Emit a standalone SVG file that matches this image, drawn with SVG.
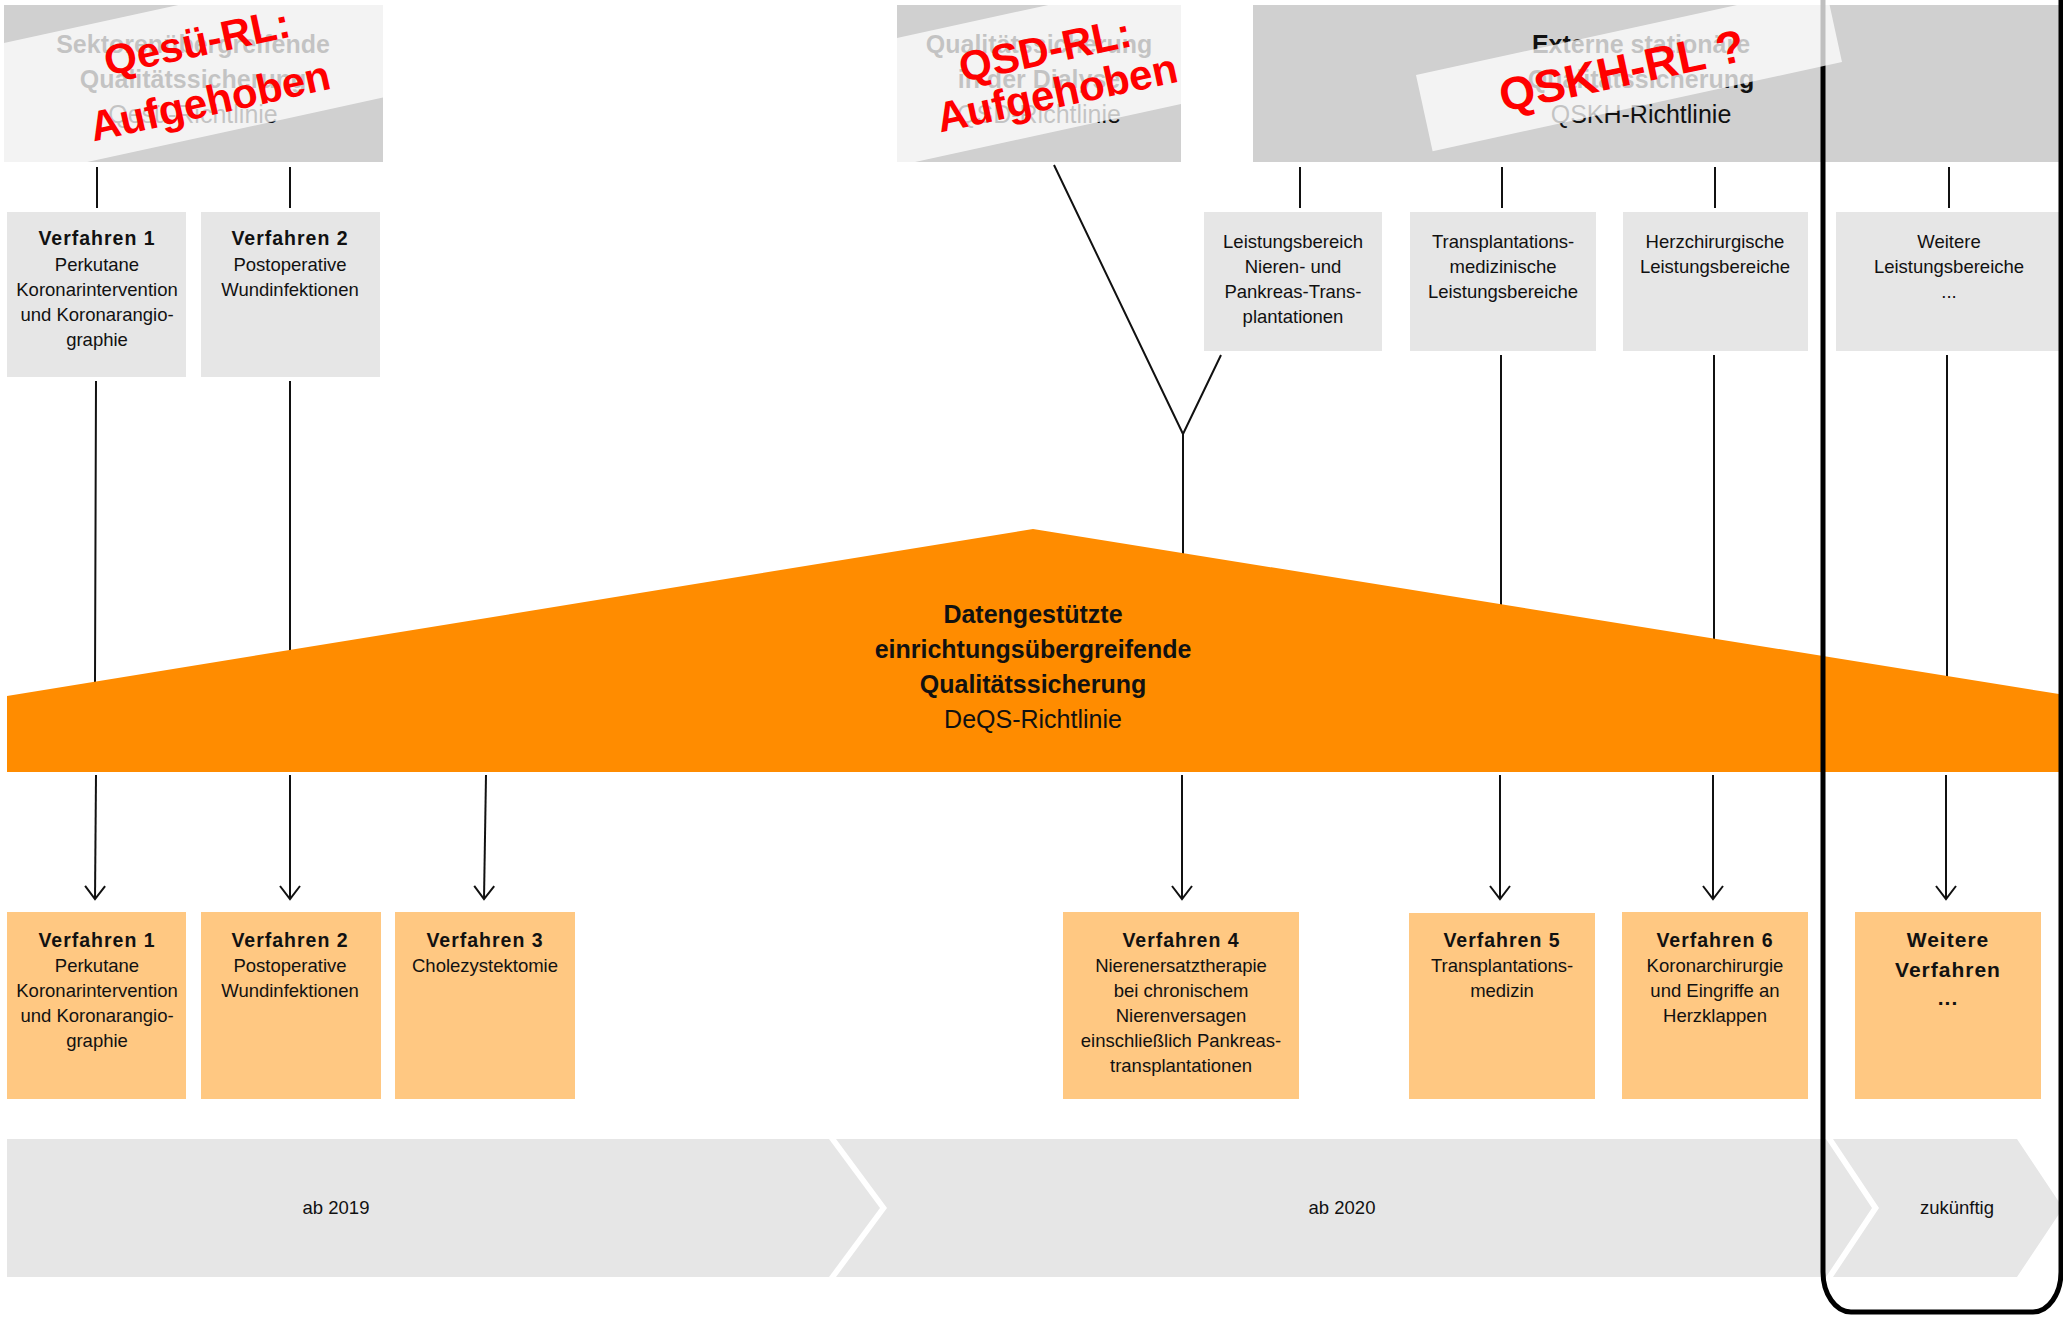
<svg xmlns="http://www.w3.org/2000/svg" width="2063" height="1320" viewBox="0 0 2063 1320">
<style>
text{font-family:"Liberation Sans",Arial,sans-serif;fill:#111;text-anchor:middle}
.h{font-size:25px;font-weight:bold}
.hr{font-size:25px}
.b{font-size:19.5px;font-weight:bold;letter-spacing:1px}
.bw{font-size:21px;font-weight:bold;letter-spacing:1px}
.r{font-size:18.5px}
.red{font-size:42px;font-weight:bold;fill:#ff0000}
.band{fill:#ffffff;fill-opacity:0.75}
.top{fill:#d0d0d0}
.gray{fill:#e6e6e6}
.lo{fill:#ffc882}
.ln{stroke:#111;stroke-width:2;fill:none}
.frame{stroke:#000;stroke-width:5;fill:none}
</style>
<defs>
<marker id="ah" viewBox="-15 -12 17 24" refX="0" refY="0" markerWidth="17" markerHeight="24" orient="auto" markerUnits="userSpaceOnUse">
<path d="M-13,-10 L0,0 L-13,10" fill="none" stroke="#111" stroke-width="2"/>
</marker>
<clipPath id="cq"><rect x="4" y="5" width="379" height="157"/></clipPath>
<clipPath id="cd"><rect x="897" y="5" width="284" height="157"/></clipPath>
</defs>

<g id="timeline">
<polygon class="gray" points="7,1139 829,1139 880,1208 829,1277 7,1277"/>
<polygon class="gray" points="836,1139 1826,1139 1872,1208 1826,1277 836,1277 887,1208"/>
<polygon class="gray" points="1833,1139 2017,1139 2063,1208 2017,1277 1833,1277 1879,1208"/>
<text class="r" x="336" y="1214">ab 2019</text>
<text class="r" x="1342" y="1214">ab 2020</text>
<text class="r" x="1957" y="1214">zukünftig</text>
</g>

<g id="connectors">
<path class="ln" d="M97,167 V208 M290,167 V208 M96,381 L95,683 M290,381 V652 M1054,165 L1183,434 M1221,355 L1183,434 M1183,434 V556 M1300,167 V208 M1502,167 V208 M1715,167 V208 M1949,167 V208 M1501,355 V607 M1714,355 V642 M1947,355 V679"/>
<g marker-end="url(#ah)">
<path class="ln" d="M96,775 L95,899"/>
<path class="ln" d="M290,775 V899"/>
<path class="ln" d="M486,775 L484,899"/>
<path class="ln" d="M1182,775 V899"/>
<path class="ln" d="M1500,775 V899"/>
<path class="ln" d="M1713,775 V899"/>
<path class="ln" d="M1946,775 V899"/>
</g>
</g>

<g id="deqs">
<polygon fill="#ff8c00" points="7,696 1033,529 2059,694 2059,772 7,772"/>
<text class="h" x="1033" y="623">Datengestützte</text>
<text class="h" x="1033" y="658">einrichtungsübergreifende</text>
<text class="h" x="1033" y="693">Qualitätssicherung</text>
<text class="hr" x="1033" y="728">DeQS-Richtlinie</text>
</g>

<g id="top-v1">
<rect class="gray" x="7" y="212" width="179" height="165"/>
<text class="b" x="97" y="245">Verfahren 1</text>
<text class="r" x="97" y="271">Perkutane</text>
<text class="r" x="97" y="296">Koronarintervention</text>
<text class="r" x="97" y="321">und Koronarangio-</text>
<text class="r" x="97" y="346">graphie</text>
</g>
<g id="top-v2">
<rect class="gray" x="201" y="212" width="179" height="165"/>
<text class="b" x="290" y="245">Verfahren 2</text>
<text class="r" x="290" y="271">Postoperative</text>
<text class="r" x="290" y="296">Wundinfektionen</text>
</g>
<g id="lb-niere">
<rect class="gray" x="1204" y="212" width="178" height="139"/>
<text class="r" x="1293" y="248">Leistungsbereich</text>
<text class="r" x="1293" y="273">Nieren- und</text>
<text class="r" x="1293" y="298">Pankreas-Trans-</text>
<text class="r" x="1293" y="323">plantationen</text>
</g>
<g id="lb-tx">
<rect class="gray" x="1410" y="212" width="186" height="139"/>
<text class="r" x="1503" y="248">Transplantations-</text>
<text class="r" x="1503" y="273">medizinische</text>
<text class="r" x="1503" y="298">Leistungsbereiche</text>
</g>
<g id="lb-herz">
<rect class="gray" x="1623" y="212" width="185" height="139"/>
<text class="r" x="1715" y="248">Herzchirurgische</text>
<text class="r" x="1715" y="273">Leistungsbereiche</text>
</g>
<g id="lb-weitere">
<rect class="gray" x="1836" y="212" width="226" height="139"/>
<text class="r" x="1949" y="248">Weitere</text>
<text class="r" x="1949" y="273">Leistungsbereiche</text>
<text class="r" x="1949" y="298">...</text>
</g>

<g id="v1">
<rect class="lo" x="7" y="912" width="179" height="187"/>
<text class="b" x="97" y="947">Verfahren 1</text>
<text class="r" x="97" y="972">Perkutane</text>
<text class="r" x="97" y="997">Koronarintervention</text>
<text class="r" x="97" y="1022">und Koronarangio-</text>
<text class="r" x="97" y="1047">graphie</text>
</g>
<g id="v2">
<rect class="lo" x="201" y="912" width="180" height="187"/>
<text class="b" x="290" y="947">Verfahren 2</text>
<text class="r" x="290" y="972">Postoperative</text>
<text class="r" x="290" y="997">Wundinfektionen</text>
</g>
<g id="v3">
<rect class="lo" x="395" y="912" width="180" height="187"/>
<text class="b" x="485" y="947">Verfahren 3</text>
<text class="r" x="485" y="972">Cholezystektomie</text>
</g>
<g id="v4">
<rect class="lo" x="1063" y="912" width="236" height="187"/>
<text class="b" x="1181" y="947">Verfahren 4</text>
<text class="r" x="1181" y="972">Nierenersatztherapie</text>
<text class="r" x="1181" y="997">bei chronischem</text>
<text class="r" x="1181" y="1022">Nierenversagen</text>
<text class="r" x="1181" y="1047">einschließlich Pankreas-</text>
<text class="r" x="1181" y="1072">transplantationen</text>
</g>
<g id="v5">
<rect class="lo" x="1409" y="913" width="186" height="186"/>
<text class="b" x="1502" y="947">Verfahren 5</text>
<text class="r" x="1502" y="972">Transplantations-</text>
<text class="r" x="1502" y="997">medizin</text>
</g>
<g id="v6">
<rect class="lo" x="1622" y="912" width="186" height="187"/>
<text class="b" x="1715" y="947">Verfahren 6</text>
<text class="r" x="1715" y="972">Koronarchirurgie</text>
<text class="r" x="1715" y="997">und Eingriffe an</text>
<text class="r" x="1715" y="1022">Herzklappen</text>
</g>
<g id="v-weitere">
<rect class="lo" x="1855" y="912" width="186" height="187"/>
<text class="bw" x="1948" y="947">Weitere</text>
<text class="bw" x="1948" y="977">Verfahren</text>
<text class="bw" x="1948" y="1005">...</text>
</g>

<g id="qesu">
<rect class="top" x="4" y="5" width="379" height="157"/>
<text class="h" x="193" y="53">Sektorenübergreifende</text>
<text class="h" x="193" y="88">Qualitätssicherung</text>
<text class="hr" x="193" y="123">Qesü-Richtlinie</text>
<g clip-path="url(#cq)"><rect class="band" transform="translate(4,43) rotate(-12.3)" x="-60" y="0" width="520" height="134"/></g>
<text class="red" transform="translate(200,56) rotate(-12)">Qesü-RL:</text>
<text class="red" transform="translate(213,115) rotate(-12.5)">Aufgehoben</text>
</g>

<g id="qsd">
<rect class="top" x="897" y="5" width="284" height="157"/>
<text class="h" x="1039" y="53">Qualitätssicherung</text>
<text class="h" x="1039" y="88">in der Dialyse</text>
<text class="hr" x="1039" y="123">QSD-Richtlinie</text>
<g clip-path="url(#cd)"><rect class="band" transform="translate(897,38) rotate(-12.3)" x="-60" y="0" width="420" height="125"/></g>
<text class="red" transform="translate(1048,64) rotate(-12)">QSD-RL:</text>
<text class="red" transform="translate(1060,107) rotate(-12)">Aufgehoben</text>
</g>

<g id="qskh">
<rect class="top" x="1253" y="5" width="810" height="157"/>
<text class="h" x="1641" y="53">Externe stationäre</text>
<text class="h" x="1641" y="88">Qualitätssicherung</text>
<text class="hr" x="1641" y="123">QSKH-Richtlinie</text>
</g>

<g id="future-frame">
<path class="frame" d="M1823,-10 V1272 A28,40 0 0 0 1851,1312 H2033 A28,40 0 0 0 2061,1272 V-10"/>
</g>

<g id="qskh-overlay">
<rect class="band" transform="translate(1416,75) rotate(-12.3)" x="0" y="0" width="419" height="78"/>
<text class="red" style="font-size:46px" transform="translate(1625,86) rotate(-12)">QSKH-RL ?</text>
</g>
</svg>
